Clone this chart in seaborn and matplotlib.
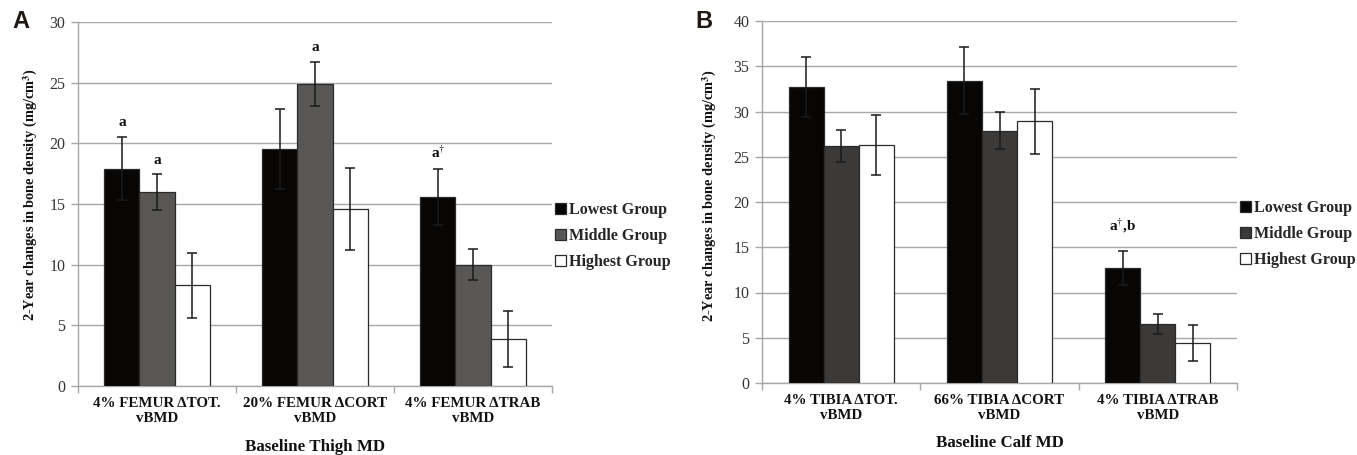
import numpy as np
import pandas as pd
import matplotlib
matplotlib.use("Agg")
import matplotlib.pyplot as plt
from matplotlib.container import BarContainer
import seaborn as sns

groups = ["Lowest Group", "Middle Group", "Highest Group"]

cats_a = ["4% FEMUR \u0394TOT.\nvBMD", "20% FEMUR \u0394CORT\nvBMD", "4% FEMUR \u0394TRAB\nvBMD"]
lowest_a = [17.9, 19.5, 15.6]
middle_a = [16.0, 24.9, 10.0]
highest_a = [8.3, 14.6, 3.9]
err_low_a = [2.6, 3.3, 2.3]
err_mid_a = [1.5, 1.8, 1.3]
err_high_a = [2.7, 3.4, 2.3]

cats_b = ["4% TIBIA \u0394TOT.\nvBMD", "66% TIBIA \u0394CORT\nvBMD", "4% TIBIA \u0394TRAB\nvBMD"]
lowest_b = [32.7, 33.4, 12.7]
middle_b = [26.2, 27.9, 6.5]
highest_b = [26.3, 28.9, 4.4]
err_low_b = [3.3, 3.7, 1.9]
err_mid_b = [1.8, 2.0, 1.1]
err_high_b = [3.3, 3.6, 2.0]

# annotations: (group index, category index, y value, text)
annot_a = [(0, 0, 21.7, "a"), (1, 0, 18.6, "a"), (1, 1, 27.9, "a"), (0, 2, 19.2, "a\u2020")]
annot_b = [(0, 2, 17.4, "a\u2020,b")]

sns.set_theme(style="white")
plt.rcParams["font.family"] = ["Liberation Serif", "DejaVu Serif"]
plt.rcParams["mathtext.fontset"] = "stix"

fig = plt.figure(figsize=(13.57, 4.55), dpi=100)
ax_a = fig.add_axes([78 / 1357, 1 - 386 / 455, 474 / 1357, 364 / 455])
ax_b = fig.add_axes([762 / 1357, 1 - 383 / 455, 475 / 1357, 362 / 455])

grid_col = "#a8a8a8"


def panel(ax, cats, vals, errs, colors, ymax, xlabel, annots, ylab_x, ylab_y):
    rows = []
    for g, v in zip(groups, vals):
        for c, val in zip(cats, v):
            rows.append({"cat": c, "grp": g, "val": val})
    df = pd.DataFrame(rows)
    sns.barplot(data=df, x="cat", y="val", hue="grp", order=cats, hue_order=groups,
                palette=colors, width=0.665, gap=0, errorbar=None,
                edgecolor="#2a2a2a", linewidth=0.9, ax=ax, zorder=3)
    bars = [c for c in ax.containers if isinstance(c, BarContainer)]
    for ci, cont in enumerate(bars):
        xs = [b.get_x() + b.get_width() / 2 for b in cont]
        ys = [b.get_height() for b in cont]
        ax.errorbar(xs, ys, yerr=errs[ci], fmt="none", ecolor="#1a1a1a",
                    elinewidth=1.1, capsize=3.5, capthick=1.1, zorder=4)
    for gi, cj, yv, txt in annots:
        b = bars[gi][cj]
        x = b.get_x() + b.get_width() / 2
        if "\u2020" in txt:
            parts = txt.split("\u2020")
            label = parts[0] + "$^{\u2020}$" + parts[1]
        else:
            label = txt
        ax.text(x, yv, label, ha="center", va="center", fontsize=11,
                fontweight="bold", color="#111111")
    ax.set_ylim(0, ymax)
    ax.set_yticks(np.arange(0, ymax + 1, 5))
    ax.set_xlim(-0.5, 2.5)
    ax.grid(axis="y", color=grid_col, linewidth=1.0, zorder=0)
    ax.set_axisbelow(True)
    for s in ["top", "right"]:
        ax.spines[s].set_visible(False)
    for s in ["left", "bottom"]:
        ax.spines[s].set_color(grid_col)
        ax.spines[s].set_linewidth(1.0)
    ax.tick_params(axis="y", left=True, length=5, color=grid_col, width=1.0,
                   labelsize=11.5, labelcolor="#333333", pad=4)
    ax.tick_params(axis="x", which="major", bottom=False, length=0, pad=8)
    ax.set_xticks([-0.5, 0.5, 1.5, 2.5], minor=True)
    ax.tick_params(axis="x", which="minor", bottom=True, length=5, color=grid_col, width=1.0)
    ax.set_xticks(range(len(cats)))
    ax.set_xticklabels(cats, fontsize=10.8, fontweight="bold", color="#111111", linespacing=1.2)
    ax.set_xlabel(xlabel, fontsize=12.2, fontweight="bold", color="#111111")
    ax.xaxis.set_label_coords(0.5, -0.145)
    ax.set_ylabel("2-Year changes in bone density (mg/cm$^{\\mathbf{3}}$)", fontsize=10.4,
                  fontweight="bold", color="#111111")
    ax.yaxis.set_label_coords(ylab_x, ylab_y)
    h, l = ax.get_legend_handles_labels()
    ax.legend(h, l, loc="center left", bbox_to_anchor=(0.993, 0.412), frameon=False,
              prop={"weight": "bold", "size": 11.5}, handlelength=0.7,
              handleheight=0.7, handletextpad=0.15, labelspacing=0.62, borderaxespad=0)


panel(ax_a, cats_a, [lowest_a, middle_a, highest_a], [err_low_a, err_mid_a, err_high_a],
      ["#080604", "#585755", "#ffffff"], 30, "Baseline Thigh MD", annot_a, -0.08, 0.525)
panel(ax_b, cats_b, [lowest_b, middle_b, highest_b], [err_low_b, err_mid_b, err_high_b],
      ["#080604", "#3b3a38", "#ffffff"], 40, "Baseline Calf MD", annot_b, -0.09, 0.517)

fig.text(12 / 1357, 1 - 22 / 455, "A", fontsize=17, fontweight="bold", color="#231815",
         family=["Liberation Sans", "DejaVu Sans"], va="center", ha="left")
fig.text(695 / 1357, 1 - 22 / 455, "B", fontsize=17, fontweight="bold", color="#231815",
         family=["Liberation Sans", "DejaVu Sans"], va="center", ha="left")

fig.savefig("out.png", dpi=100, facecolor="white")
